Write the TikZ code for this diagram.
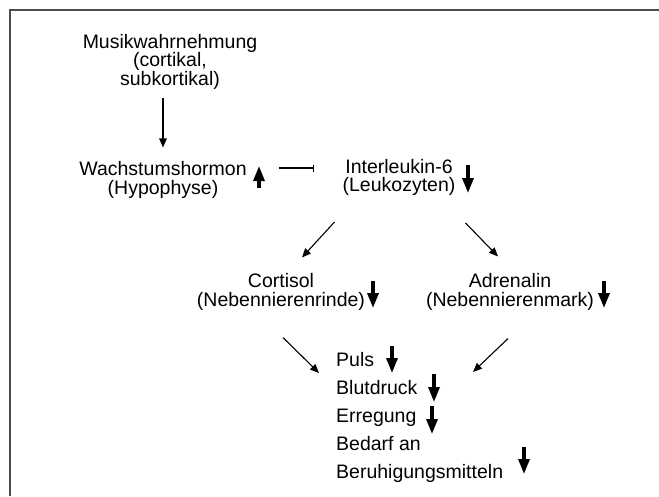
\documentclass[tikz,border=0pt]{standalone}
\usepackage{fontspec}
\setmainfont{Liberation Sans}
\usetikzlibrary{arrows.meta}
\tikzset{
  txt/.style={inner sep=0pt, align=center, font=\fontsize{19.5}{18.5}\selectfont},
  item/.style={inner sep=0pt, anchor=base west, font=\fontsize{19.5}{18.5}\selectfont},
  conn/.style={line width=1.1pt, -{Triangle[width=7.5pt,length=9pt]}},
  inhib/.style={line width=1.1pt, -{Bar[width=7pt,line width=1.1pt]}},
  level/.style={line width=3.2pt, -{Triangle[width=11pt,length=15pt]}}
}
\begin{document}
\begin{tikzpicture}[x=1pt,y=-1pt]
  \useasboundingbox (0,0) rectangle (659,496);
  % frame (only top and left edge visible)
  \draw[line width=2pt, black!70] (659,10) -- (10,10) -- (10,496);

  \node[txt] (music) at (170,61.5) {Musikwahrnehmung\\(cortikal,\\subkortikal)};
  \node[txt] (gh) at (163,180) {Wachstumshormon\\(Hypophyse)};
  \node[txt] (il6) at (399,177.5) {Interleukin-6\\(Leukozyten)};
  \node[txt] (cort) at (281,292) {Cortisol\\(Nebennierenrinde)};
  \node[txt] (adr) at (510,292) {Adrenalin\\(Nebennierenmark)};

  \node[item] (puls) at (336,366) {Puls};
  \node[item] (bd) at (336,394) {Blutdruck};
  \node[item] (err) at (336,422) {Erregung};
  \node[item] (bed) at (336,450) {Bedarf an};
  \node[item] (ber) at (336,478) {Beruhigungsmitteln};

  % connectors
  \draw[conn, shorten <=9pt, shorten >=14pt] (music.south -| gh.north) -- (gh.north);
  \draw[inhib] ([xshift=32pt,yshift=12pt]gh.east) -- ([xshift=-28pt,yshift=9.5pt]il6.west);
  \draw[conn] ([xshift=-8pt,yshift=-26pt]il6.south west) -- ([xshift=21pt,yshift=16pt]cort.north);
  \draw[conn] ([xshift=10pt,yshift=-27pt]il6.south east) -- ([xshift=-12pt,yshift=17pt]adr.north);
  \draw[conn] ([xshift=2pt,yshift=-27pt]cort.south) -- ([xshift=-17pt,yshift=-7pt]puls.base west);
  \draw[conn] ([xshift=-2pt,yshift=-28pt]adr.south) -- ([xshift=137pt,yshift=-6pt]puls.base west);

  % up / down markers
  \draw[level] (259,188) -- (259,166);
  \draw[level] (468,165) -- (468,193);
  \draw[level] (373,281) -- (373,308);
  \draw[level] (604,281) -- (604,308);
  \draw[level] (392,346) -- (392,373);
  \draw[level] (434,374) -- (434,402);
  \draw[level] (432,406) -- (432,434);
  \draw[level] (524,447) -- (524,474);
\end{tikzpicture}
\end{document}
